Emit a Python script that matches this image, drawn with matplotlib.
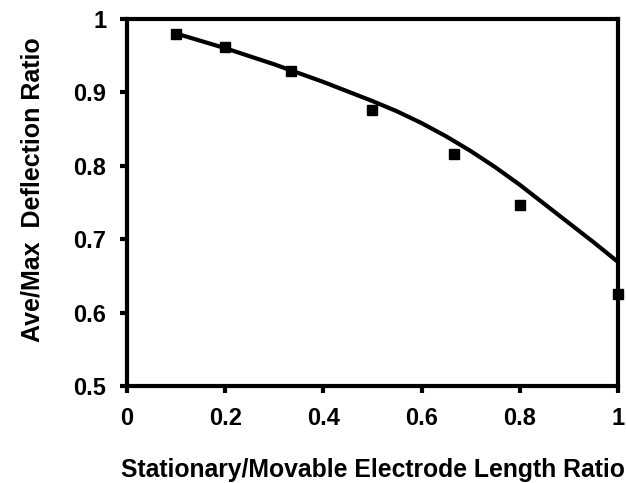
import matplotlib.pyplot as plt

# measured data points
length_ratio = [0.1, 0.2, 0.333, 0.5, 0.667, 0.8, 1.0]
defl_ratio = [0.980, 0.962, 0.929, 0.876, 0.816, 0.747, 0.625]

# model curve
curve_x = [0.10, 0.15, 0.20, 0.25, 0.30, 0.35, 0.40, 0.45, 0.50, 0.55,
           0.60, 0.65, 0.70, 0.75, 0.80, 0.85, 0.90, 0.95, 1.00]
curve_y = [0.980, 0.970, 0.960, 0.949, 0.938, 0.926, 0.914, 0.901, 0.888,
           0.874, 0.858, 0.840, 0.820, 0.798, 0.774, 0.748, 0.722, 0.696,
           0.669]

x_ticks = [0, 0.2, 0.4, 0.6, 0.8, 1]
x_ticklabels = ["0", "0.2", "0.4", "0.6", "0.8", "1"]
y_ticks = [0.5, 0.6, 0.7, 0.8, 0.9, 1]
y_ticklabels = ["0.5", "0.6", "0.7", "0.8", "0.9", "1"]

plt.rcParams["font.family"] = ["Liberation Sans", "DejaVu Sans"]
plt.rcParams["font.weight"] = "bold"

fig = plt.figure(figsize=(6.26, 4.83), dpi=100)
ax = fig.add_axes([0.203, 0.201, 0.784, 0.760])

ax.plot(curve_x, curve_y, color="black", linewidth=3, solid_capstyle="butt",
        solid_joinstyle="round")
ax.plot(length_ratio, defl_ratio, linestyle="none", marker="s", markersize=7,
        color="black", clip_on=False, zorder=5)

ax.set_xlim(0, 1)
ax.set_ylim(0.5, 1)
ax.set_xticks(x_ticks)
ax.set_xticklabels(x_ticklabels)
ax.set_yticks(y_ticks)
ax.set_yticklabels(y_ticklabels)

for s in ax.spines.values():
    s.set_linewidth(3)
ax.tick_params(direction="out", length=5, width=3, labelsize=17, pad=10)

ax.set_xlabel("Stationary/Movable Electrode Length Ratio", fontsize=17.8,
              fontweight="bold", labelpad=20)
ax.set_ylabel("Ave/Max  Deflection Ratio", fontsize=18, fontweight="bold")
ax.yaxis.set_label_coords(-0.168, 0.534)

fig.savefig("out.png", dpi=100)
